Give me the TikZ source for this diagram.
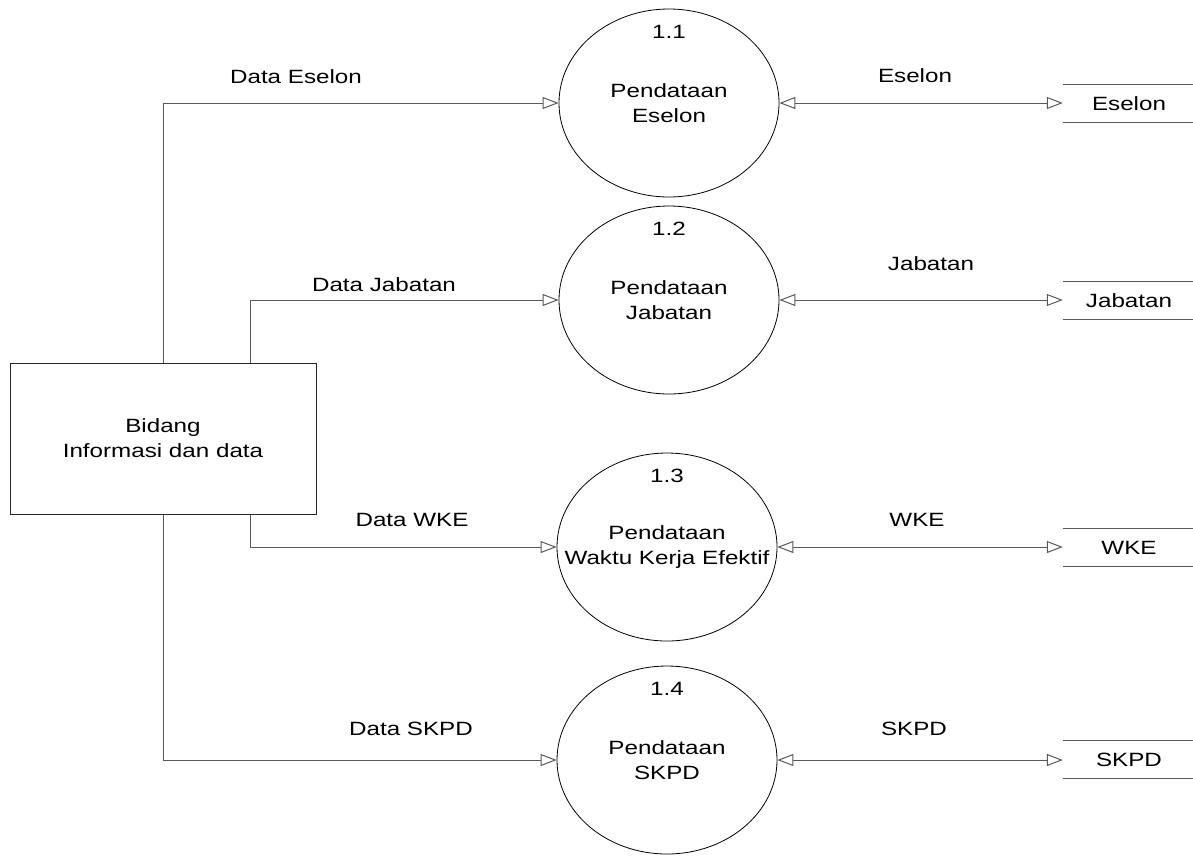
\documentclass[tikz,border=0pt]{standalone}
\usepackage{fontspec}
\setmainfont{Liberation Sans}[FakeStretch=1.26]
\usetikzlibrary{arrows.meta,shapes.geometric}
\tikzset{
  tip/.tip={Triangle[open,length=16pt,width=12pt]},
  flow/.style={draw=black!65, line width=1pt, -tip},
  dflow/.style={draw=black!65, line width=1pt, tip-tip},
  process/.style={ellipse, draw=black, line width=0.8pt, minimum width=220pt, minimum height=188pt, inner sep=0pt},
  ptext/.style={align=center, inner sep=0pt},
  entity/.style={rectangle, draw=black!85, line width=1pt, minimum width=306pt, minimum height=151pt, align=center, inner sep=0pt},
  store/.style={rectangle, minimum width=132pt, minimum height=37pt, inner sep=0pt},
  lbl/.style={inner sep=0pt},
  pnum/.style={anchor=north, inner sep=0pt}
}
\begin{document}
\begin{tikzpicture}[x=1pt, y=-1pt, font=\fontsize{19.2}{25}\selectfont]
\useasboundingbox (0,0) rectangle (1193,855);

% external entity
\node[entity] (box) at (163,438.5) {Bidang\\Informasi dan data};

% processes: the outline and its caption are separate nodes, so a wide
% caption does not widen the bubble
\node[process] (p1) at (669,103) {};
\node[process] (p2) at (669,300) {};
\node[process] (p3) at (667,547) {};
\node[process] (p4) at (667,760) {};

\node[ptext] (t1) at (p1.center) {Pendataan\\Eselon};
\node[ptext] (t2) at (p2.center) {Pendataan\\Jabatan};
\node[ptext] (t3) at (p3.center) {Pendataan\\Waktu Kerja Efektif};
\node[ptext] (t4) at (p4.center) {Pendataan\\SKPD};

\node[pnum] (n1) at ([yshift=-16pt]p1.north) {1.1};
\node[pnum] (n2) at ([yshift=-16pt]p2.north) {1.2};
\node[pnum] (n3) at ([yshift=-16pt]p3.north) {1.3};
\node[pnum] (n4) at ([yshift=-16pt]p4.north) {1.4};

% data stores
\foreach \n/\t/\y in {s1/Eselon/103.5, s2/Jabatan/300.5, s3/WKE/547.5, s4/SKPD/759.5}{
  \node[store] (\n) at (1129,\y) {\t};
  \draw[black!65, line width=1pt] (\n.north west) -- (\n.north east)
                                  (\n.south west) -- (\n.south east);
}

% flows from the entity
\draw[flow] (box.north) |- (p1.west);
\draw[flow] ([xshift=87pt]box.north) |- (p2.west);
\draw[flow] ([xshift=87pt]box.south) |- (p3.west);
\draw[flow] (box.south) |- (p4.west);

% flows between processes and stores
\draw[dflow] (p1.east) -- (s1.west |- p1.east);
\draw[dflow] (p2.east) -- (s2.west |- p2.east);
\draw[dflow] (p3.east) -- (s3.west |- p3.east);
\draw[dflow] (p4.east) -- (s4.west |- p4.east);

% flow labels
\node[lbl] (l1) at (296,77) {Data Eselon};
\node[lbl] (l2) at (384,285) {Data Jabatan};
\node[lbl] (l3) at (412,520) {Data WKE};
\node[lbl] (l4) at (411,729) {Data SKPD};
\node[lbl] (r1) at (915,76) {Eselon};
\node[lbl] (r2) at (931,264) {Jabatan};
\node[lbl] (r3) at (917,520) {WKE};
\node[lbl] (r4) at (914,729) {SKPD};
\end{tikzpicture}
\end{document}
